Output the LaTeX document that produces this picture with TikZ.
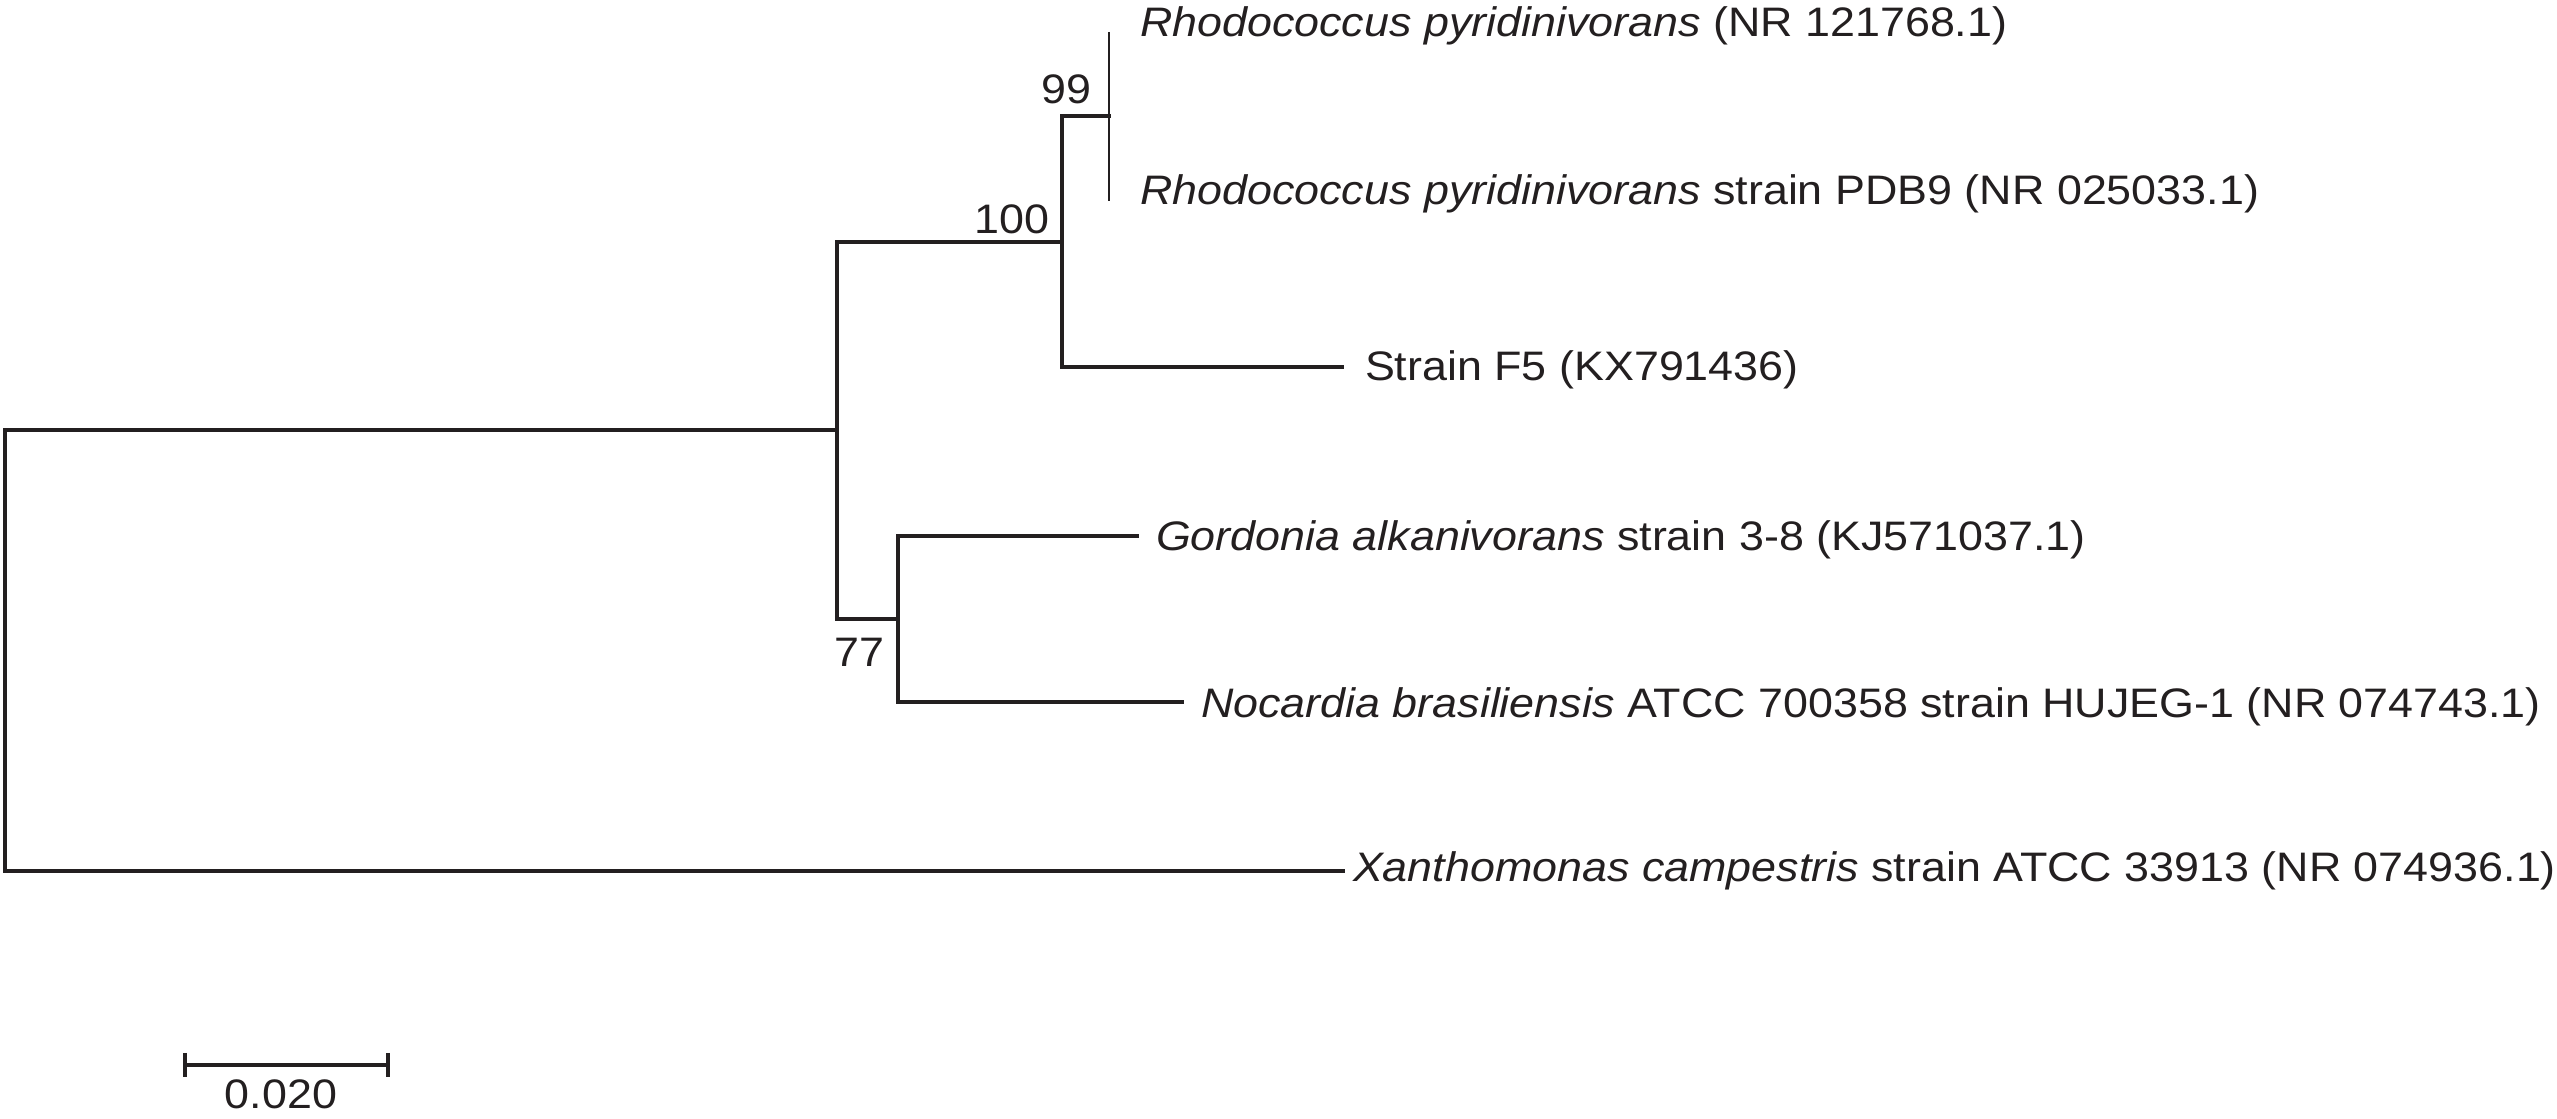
\documentclass[tikz,border=0pt]{standalone}
\usepackage{fontspec}
\setmainfont{Liberation Sans}
\usepackage{graphicx}
\definecolor{ink}{RGB}{35,31,32}
\newcommand{\stx}[1]{\scalebox{1.088}[1]{#1}}
\begin{document}
\begin{tikzpicture}[x=0.01cm,y=-0.01cm,
  branch/.style={draw=ink, line width=0.95pt, line join=miter, line cap=rect},
  thinbranch/.style={draw=ink, line width=0.55pt},
  taxon/.style={inner sep=0pt, outer sep=0pt, anchor=base west, text=ink,
    font=\fontsize{11.72}{14}\selectfont},
  support/.style={inner sep=0pt, outer sep=0pt, anchor=base east, text=ink,
    font=\fontsize{11.72}{14}\selectfont}]
\useasboundingbox (0,0) rectangle (2557,1119);

% internal nodes
\coordinate (R)  at (5,430);
\coordinate (A)  at (837,430);
\coordinate (B)  at (1062,242);
\coordinate (C)  at (1109,116);
\coordinate (D)  at (898,619);
% leaf ends
\coordinate (r1) at (1109,32);
\coordinate (r2) at (1109,201);
\coordinate (f5) at (1342,367);
\coordinate (g)  at (1137,536);
\coordinate (n)  at (1182,702);
\coordinate (xa) at (1343,871);

% branches
\draw[branch] (A) -- (R) |- (xa);
\draw[branch] (B) -| (A) |- (D);
\draw[branch] (C) -| (B) |- (f5);
\draw[branch] (g) -| (D) |- (n);
\draw[thinbranch] (r1) -- (r2);

% taxa
\node[taxon] (tr1) at (1140,37) {\stx{\textit{Rhodococcus pyridinivorans} (NR 121768.1)}};
\node[taxon] (tr2) at (1140,205) {\stx{\textit{Rhodococcus pyridinivorans} strain PDB9 (NR 025033.1)}};
\node[taxon] (tf5) at (1365,381) {\stx{Strain F5 (KX791436)}};
\node[taxon] (tg)  at (1156,551) {\stx{\textit{Gordonia alkanivorans} strain 3-8 (KJ571037.1)}};
\node[taxon] (tn)  at (1201,718) {\stx{\textit{Nocardia brasiliensis} ATCC 700358 strain HUJEG-1 (NR 074743.1)}};
\node[taxon] (tx)  at (1353,882) {\stx{\textit{Xanthomonas campestris} strain ATCC 33913 (NR 074936.1)}};

% support values
\node[support] (s99)  at (1091,104) {\stx{99}};
\node[support] (s100) at (1049,234) {\stx{100}};
\node[support] (s77)  at (884,667)  {\stx{77}};

% scale bar
\coordinate (sbL) at (185,1065);
\coordinate (sbR) at (388,1065);
\draw[branch, line cap=butt] (sbL) -- (sbR);
\draw[branch, line cap=butt] ([yshift=0.12cm]sbL) -- ([yshift=-0.12cm]sbL);
\draw[branch, line cap=butt] ([yshift=0.12cm]sbR) -- ([yshift=-0.12cm]sbR);
\node[inner sep=0pt, anchor=base, text=ink, font=\fontsize{11.72}{14}\selectfont] (sblab) at (281,1108) {\stx{0.020}};
\end{tikzpicture}
\end{document}
